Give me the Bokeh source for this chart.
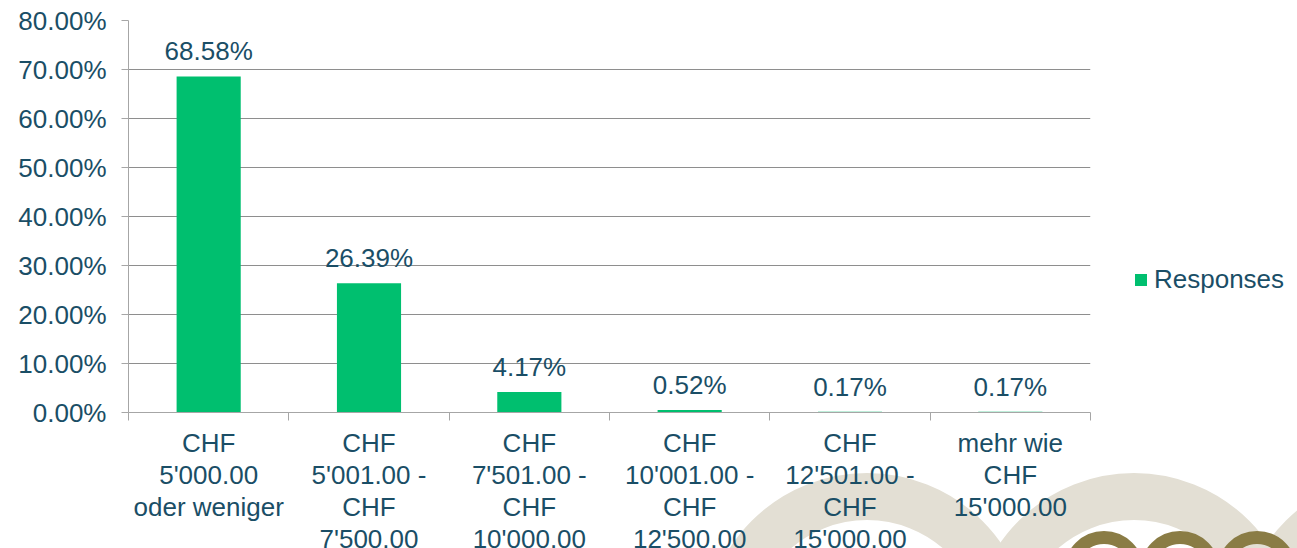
import base64
from bokeh.plotting import figure
from bokeh.models import (ColumnDataSource, LabelSet, FixedTicker, PrintfTickFormatter,
                          Range1d, Legend, LegendItem, InlineStyleSheet)
from bokeh.embed import file_html
from bokeh.resources import INLINE
from bokeh.core.properties import value

# ---------------- data ----------------
categories = [
    "CHF\n5'000.00\noder weniger",
    "CHF\n5'001.00 -\nCHF\n7'500.00",
    "CHF\n7'501.00 -\nCHF\n10'000.00",
    "CHF\n10'001.00 -\nCHF\n12'500.00",
    "CHF\n12'501.00 -\nCHF\n15'000.00",
    "mehr wie\nCHF\n15'000.00",
]
responses = [68.58, 26.39, 4.17, 0.52, 0.17, 0.17]
y_ticks = [0, 10, 20, 30, 40, 50, 60, 70, 80]
series_name = "Responses"

# ---------------- style ----------------
FONT = "Liberation Sans"
TXT = "#1A4E66"
GREEN = "#00BF6F"
GRID = "#8E8E8E"
AXIS = "#A6A6A6"
FS = "26px"

W, H = 1297, 548
FL, FR, FT, FB = 128, 1090, 20, 412   # frame edges (page px)
YMAX = 80.0
NC = len(categories)

centers = [i + 0.5 for i in range(NC)]
bounds = list(range(NC + 1))
src = ColumnDataSource(dict(
    x=centers, top=responses,
    lbl=["%.2f%%" % v for v in responses],
))

# decorative watermark (background image of the page element)
rings = []
for cx in (867, 1134, 1401):
    rings.append('<circle cx="%d" cy="636" r="139.5" fill="none" stroke="#E3DFD4" stroke-width="47"/>' % cx)
for cx in (1104, 1180, 1257):
    rings.append('<circle cx="%d" cy="571" r="33.5" fill="none" stroke="#8A7C45" stroke-width="13"/>' % cx)
svg = ('<svg xmlns="http://www.w3.org/2000/svg" width="%d" height="%d">%s</svg>'
       % (W, H, "".join(rings)))
bg = "url(data:image/svg+xml;base64,%s)" % base64.b64encode(svg.encode()).decode()

p = figure(frame_width=FR - FL, frame_height=FB - FT,
           output_backend="svg", toolbar_location=None,
           x_range=Range1d(0, NC), y_range=Range1d(0, YMAX),
           min_border_left=FL, min_border_right=W - FR,
           min_border_top=FT, min_border_bottom=H - FB)
p.styles = {"background-color": "white", "background-image": bg,
            "background-repeat": "no-repeat", "background-position": "0 0"}
p.stylesheets = [InlineStyleSheet(css=":host { width: %dpx !important; height: %dpx !important; "
                                      "max-width: %dpx !important; max-height: %dpx !important; "
                                      "overflow: hidden !important; }" % (W, H, W, H))]
p.outline_line_color = None
p.background_fill_color = None
p.border_fill_color = None

# ---------------- bars ----------------
bars = p.vbar(x="x", top="top", width=0.4, source=src, fill_color=GREEN, line_color=None)

# ---------------- axes / grid ----------------
p.xgrid.visible = False
p.ygrid.ticker = FixedTicker(ticks=y_ticks)
p.ygrid.grid_line_color = GRID
p.ygrid.grid_line_width = 1

ya = p.yaxis[0]
ya.ticker = FixedTicker(ticks=y_ticks)
ya.formatter = PrintfTickFormatter(format="%.2f%%")
ya.major_tick_out = 7
ya.major_tick_in = 0
ya.minor_tick_line_color = None
ya.axis_line_color = AXIS
ya.major_tick_line_color = AXIS
ya.major_label_standoff = 15
ya.major_label_text_font = FONT
ya.major_label_text_font_size = FS
ya.major_label_text_color = TXT

xa = p.xaxis[0]
xa.ticker = FixedTicker(ticks=centers, minor_ticks=bounds)
xa.major_label_overrides = {c: lab for c, lab in zip(centers, categories)}
xa.major_tick_out = 8
xa.major_tick_in = 0
xa.major_tick_line_color = None
xa.minor_tick_out = 8
xa.minor_tick_in = 0
xa.minor_tick_line_color = AXIS
xa.axis_line_color = AXIS
xa.major_label_standoff = 7
xa.major_label_text_font = FONT
xa.major_label_text_font_size = FS
xa.major_label_text_color = TXT
xa.major_label_text_line_height = 1.07

# ---------------- value labels ----------------
p.add_layout(LabelSet(x="x", y="top", text="lbl", source=src, y_offset=16,
                      text_align="center", text_baseline="alphabetic",
                      text_font=value(FONT), text_font_size=value(FS), text_color=TXT))

# ---------------- legend ----------------
legend = Legend(items=[LegendItem(label=series_name, renderers=[bars])],
                location=(43, 117), orientation="vertical",
                padding=0, margin=0, spacing=0,
                glyph_width=15, glyph_height=15, label_standoff=6,
                label_text_font=FONT, label_text_font_size=FS, label_text_color=TXT,
                border_line_color=None, background_fill_alpha=0)
p.add_layout(legend, "right")

open("out.html", "w").write(file_html(p, INLINE))
